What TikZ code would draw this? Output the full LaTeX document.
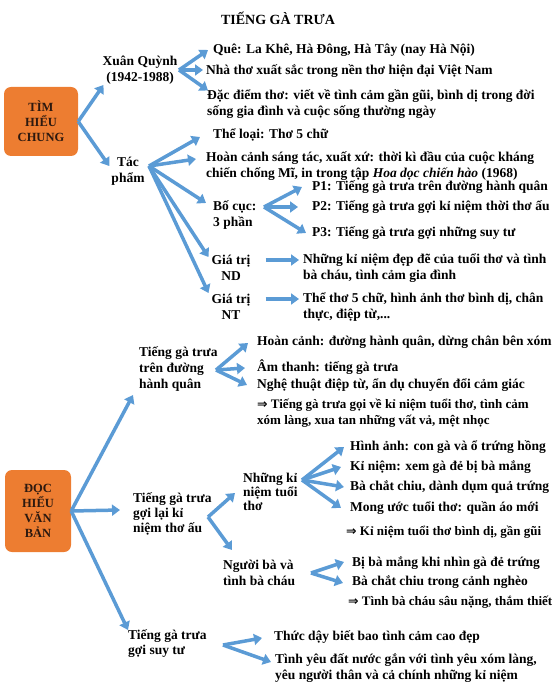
\documentclass[tikz,border=0pt]{standalone}
\usepackage{fontspec}
\setmainfont{Liberation Serif}
\newfontfamily\symfont{DejaVu Sans}
\usetikzlibrary{arrows.meta}
\definecolor{arrblue}{RGB}{91,155,213}
\definecolor{boxorange}{RGB}{237,125,49}
\definecolor{boxtext}{RGB}{45,25,15}
\newcommand{\impl}{{\symfont\bfseries\fontsize{12.5}{12}\selectfont ⇒}}
\begin{document}
\begin{tikzpicture}[x=1pt,y=-1pt,
  every node/.style={font=\fontsize{13.5}{16}\selectfont\bfseries, inner sep=1pt},
  txt/.style={anchor=west, align=left},
  ctr/.style={align=center},
  concl/.style={anchor=west, align=left, font=\fontsize{13}{16}\selectfont\bfseries},
  obox/.style={fill=boxorange, rounded corners=7pt, text=boxtext, align=center, font=\fontsize{12.5}{15}\selectfont\bfseries},
  arr/.style={draw=arrblue, line width=3.5pt, -{Triangle[width=11pt,length=8pt]}}]
\useasboundingbox (0,0) rectangle (559,700);

\node[font=\fontsize{14}{16}\selectfont\bfseries] (title) at (278,18) {TIẾNG GÀ TRƯA};

% ---------- TÌM HIỂU CHUNG ----------
\node[obox, minimum width=74pt, minimum height=69pt] (tim) at (41,121.5) {TÌM\\HIỂU\\CHUNG};
\node[ctr] (xq) at (140,70) {Xuân Quỳnh\\(1942-1988)};
\node[ctr] (tp) at (128,171) {Tác\\phẩm};

\node[txt] (que) at (212,50) {Quê: La Khê, Hà Đông, Hà Tây (nay Hà Nội)};
\node[txt] (nha) at (205,71) {Nhà thơ xuất sắc trong nền thơ hiện đại Việt Nam};
\node[txt] (dd) at (206,104.5) {Đặc điểm thơ: viết về tình cảm gần gũi, bình dị trong đời\\sống gia đình và cuộc sống thường ngày};

\node[txt] (theloai) at (212,135) {Thể loại: Thơ 5 chữ};
\node[txt] (hoancanh) at (205,166) {Hoàn cảnh sáng tác, xuất xứ: thời kì đầu của cuộc kháng\\chiến chống Mĩ, in trong tập \textit{Hoa dọc chiến hào} (1968)};
\node[txt] (bocuc) at (212,215) {Bố cục:\\3 phần};
\node[ctr] (gtnd) at (231,268) {Giá trị\\ND};
\node[ctr] (gtnt) at (231,307) {Giá trị\\NT};

\node[txt] (p1) at (311,187) {P1: Tiếng gà trưa trên đường hành quân};
\node[txt] (p2) at (311,207) {P2: Tiếng gà trưa gợi kỉ niệm thời thơ ấu};
\node[txt] (p3) at (311,233) {P3: Tiếng gà trưa gợi những suy tư};
\node[txt] (nd) at (302,268) {Những kỉ niệm đẹp đẽ của tuổi thơ và tình\\bà cháu, tình cảm gia đình};
\node[txt] (nt) at (302,307) {Thể thơ 5 chữ, hình ảnh thơ bình dị, chân\\thực, điệp từ,...};

\draw[arr] (tim.east) -- ([shift={(2,15)}]xq.west);
\draw[arr] (tim.east) -- ([shift={(-1,-5)}]tp.west);

\coordinate (xqF) at (179,70);
\draw[arr] (xqF) -- ([shift={(-4,0)}]que.west);
\draw[arr] (xqF) -- ([shift={(-2,-1)}]nha.west);
\draw[arr] (xqF) -- ([shift={(2,-14)}]dd.west);

\coordinate (tpF) at (149,166);
\draw[arr] (tpF) -- ([shift={(-12,2)}]theloai.west);
\draw[arr] (tpF) -- ([shift={(-9,-7)}]hoancanh.west);
\draw[arr] (tpF) -- ([shift={(-6,-12)}]bocuc.west);
\draw[arr] (tpF) -- ([shift={(-2,-11)}]gtnd.west);
\draw[arr] (tpF) -- ([shift={(-2,-14)}]gtnt.west);

\coordinate (bcF) at (264,207);
\draw[arr] (bcF) -- ([shift={(-9,0)}]p1.west);
\draw[arr] (bcF) -- ([shift={(-13,0)}]p2.west);
\draw[arr] (bcF) -- ([shift={(-5,0)}]p3.west);

\draw[arr] ([shift={(14,-8)}]gtnd.east) -- ([shift={(-3,-8)}]nd.west);
\draw[arr] ([shift={(14,-8)}]gtnt.east) -- ([shift={(-3,-8)}]nt.west);

% ---------- ĐỌC HIỂU VĂN BẢN ----------
\node[obox, minimum width=66pt, minimum height=82pt] (dh) at (38,511) {ĐỌC\\HIỂU\\VĂN\\BẢN};
\node[txt] (tg1) at (138,369) {Tiếng gà trưa\\trên đường\\hành quân};
\node[txt, font=\fontsize{13.5}{15}\selectfont\bfseries] (tg2) at (132,514) {Tiếng gà trưa\\gợi lại kỉ\\niệm thơ ấu};
\node[txt, font=\fontsize{13.5}{15}\selectfont\bfseries] (tg3) at (127,644) {Tiếng gà trưa\\gợi suy tư};

\node[txt] (hc2) at (256,342) {Hoàn cảnh: đường hành quân, dừng chân bên xóm};
\node[txt] (am) at (256,367) {Âm thanh: tiếng gà trưa};
\node[txt] (nt2) at (256,385) {Nghệ thuật điệp từ, ẩn dụ chuyển đổi cảm giác};
\node[concl] (kl1) at (256,413) {\impl{} Tiếng gà trưa gọi về kỉ niệm tuổi thơ, tình cảm\\xóm làng, xua tan những vất vả, mệt nhọc};

\node[txt, font=\fontsize{13.5}{14}\selectfont\bfseries] (nk) at (242,492) {Những kỉ\\niệm tuổi\\thơ};
\node[txt] (nb) at (222,573) {Người bà và\\tình bà cháu};

\node[txt] (ha) at (349,447) {Hình ảnh: con gà và ổ trứng hồng};
\node[txt] (kn) at (349,467) {Kỉ niệm: xem gà đẻ bị bà mắng};
\node[txt] (bcc) at (349,487) {Bà chắt chiu, dành dụm quả trứng};
\node[txt] (mu) at (349,508) {Mong ước tuổi thơ: quần áo mới};
\node[concl] (kl2) at (345,532) {\impl{} Kỉ niệm tuổi thơ bình dị, gần gũi};

\node[txt] (bm) at (351,563) {Bị bà mắng khi nhìn gà đẻ trứng};
\node[txt] (bcn) at (351,582) {Bà chắt chiu trong cảnh nghèo};
\node[concl] (kl3) at (347,602) {\impl{} Tình bà cháu sâu nặng, thắm thiết};

\node[txt] (td) at (273,637) {Thức dậy biết bao tình cảm cao đẹp};
\node[txt] (ty) at (274,668) {Tình yêu đất nước gắn với tình yêu xóm làng,\\yêu người thân và cả chính những kỉ niệm};

\draw[arr] (dh.east) -- ([shift={(-5,26)}]tg1.west);
\draw[arr] (dh.east) -- ([shift={(-12,-4)}]tg2.west);
\draw[arr] (dh.east) -- ([shift={(1,-14)}]tg3.west);

\coordinate (tg1F) at (216,370);
\draw[arr] (tg1F) -- ([shift={(-8,1)}]hc2.west);
\draw[arr] (tg1F) -- ([shift={(-11,1)}]am.west);
\draw[arr] (tg1F) -- ([shift={(-9,0)}]nt2.west);

\coordinate (tg2F) at (208,517);
\draw[arr] (tg2F) -- ([shift={(-7,1)}]nk.west);
\draw[arr] (tg2F) -- ([shift={(10,-23)}]nb.west);

\coordinate (nkF) at (302,480);
\draw[arr] (nkF) -- ([shift={(-5,0)}]ha.west);
\draw[arr] (nkF) -- ([shift={(-8,0)}]kn.west);
\draw[arr] (nkF) -- ([shift={(-5,0)}]bcc.west);
\draw[arr] (nkF) -- ([shift={(-8,0)}]mu.west);

\coordinate (nbF) at (311,573);
\draw[arr] (nbF) -- ([shift={(-7,-1)}]bm.west);
\draw[arr] (nbF) -- ([shift={(-8,1)}]bcn.west);

\coordinate (tg3F) at (223,645);
\draw[arr] (tg3F) -- ([shift={(-11,1)}]td.west);
\draw[arr] (tg3F) -- ([shift={(-3,-6)}]ty.west);
\end{tikzpicture}
\end{document}
